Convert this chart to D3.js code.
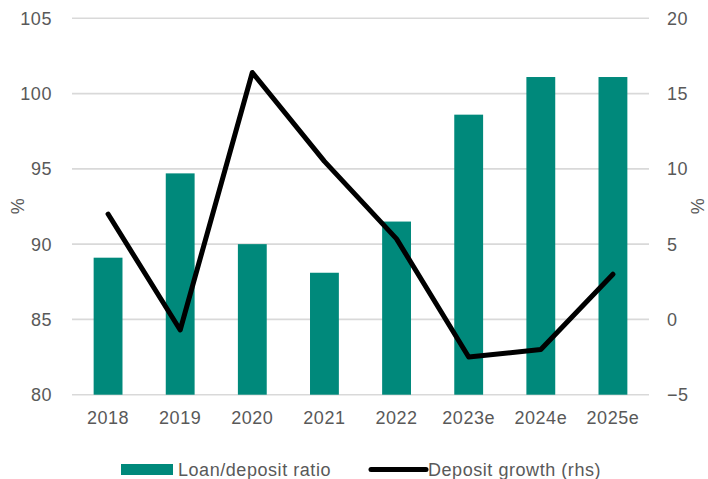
<!DOCTYPE html>
<html>
<head>
<meta charset="utf-8">
<script src="https://cdn.jsdelivr.net/npm/d3@7"></script>
<style>
  html, body { margin: 0; padding: 0; background: #fff; }
  svg text { font-family: "Liberation Sans", Arial, sans-serif; fill: #595959; letter-spacing: 0.55px; }
</style>
</head>
<body>
<svg id="chart" width="708" height="479"></svg>
<script>
// Years on the x axis
const years = ["2018", "2019", "2020", "2021", "2022", "2023e", "2024e", "2025e"];
// Loan/deposit ratio, % (left axis)
const loanDepositRatio = [89.1, 94.7, 90.0, 88.1, 91.5, 98.6, 101.1, 101.1];
// Deposit growth, % y/y (right axis)
const depositGrowth = [7.0, -0.7, 16.4, 10.5, 5.35, -2.5, -2.0, 3.0];
// Axis ticks
const leftTicks = [80, 85, 90, 95, 100, 105];
const rightTicks = [-5, 0, 5, 10, 15, 20];

const svg = d3.select("#chart");
const margin = { left: 72, right: 59, top: 18, bottom: 85 };
const W = 708, H = 479;
const x0 = margin.left, x1 = W - margin.right;
const yTop = margin.top + 0.3, yBot = H - margin.bottom + 0.7;

const x = d3.scaleBand().domain(years).range([x0, x1]).paddingInner(0.6).paddingOuter(0.3);
const yL = d3.scaleLinear().domain([80, 105]).range([yBot, yTop]);
const yR = d3.scaleLinear().domain([-5, 20]).range([yBot, yTop]);

// Horizontal gridlines
svg.append("g")
  .selectAll("line")
  .data(leftTicks)
  .join("line")
  .attr("x1", x0).attr("x2", x1)
  .attr("y1", d => yL(d)).attr("y2", d => yL(d))
  .attr("stroke", "#d9d9d9")
  .attr("stroke-width", 1.6);

// Left axis
const axisL = svg.append("g")
  .attr("transform", `translate(${x0},0)`)
  .call(d3.axisLeft(yL).tickValues(leftTicks).tickSize(0).tickPadding(20));
axisL.select(".domain").remove();
axisL.selectAll("text").style("font-size", "18px").attr("dy", "0.34em");

// Right axis
const axisR = svg.append("g")
  .attr("transform", `translate(${x1},0)`)
  .call(d3.axisRight(yR).tickValues(rightTicks).tickSize(0).tickPadding(18));
axisR.select(".domain").remove();
axisR.selectAll("text").style("font-size", "18px").attr("dy", "0.34em");

// Bars
svg.append("g")
  .selectAll("rect")
  .data(years)
  .join("rect")
  .attr("x", d => x(d))
  .attr("width", x.bandwidth())
  .attr("y", (d, i) => yL(loanDepositRatio[i]))
  .attr("height", (d, i) => yL(80) - yL(loanDepositRatio[i]))
  .attr("fill", "#00897b");

// X axis labels
const axisX = svg.append("g")
  .attr("transform", `translate(0,${yBot})`)
  .call(d3.axisBottom(x).tickSize(0).tickPadding(17));
axisX.select(".domain").remove();
axisX.selectAll("text").style("font-size", "18px");

// Deposit growth line
const line = d3.line()
  .x((d, i) => x(years[i]) + x.bandwidth() / 2)
  .y(d => yR(d));
svg.append("path")
  .datum(depositGrowth)
  .attr("d", line)
  .attr("fill", "none")
  .attr("stroke", "#000")
  .attr("stroke-width", 5)
  .attr("stroke-linecap", "round")
  .attr("stroke-linejoin", "round");

// Axis titles
svg.append("text")
  .attr("transform", "translate(18,206) rotate(-90)")
  .attr("text-anchor", "middle")
  .attr("dy", "0.35em")
  .style("font-size", "18px")
  .text("%");
svg.append("text")
  .attr("transform", "translate(698,206) rotate(-90)")
  .attr("text-anchor", "middle")
  .attr("dy", "0.35em")
  .style("font-size", "18px")
  .text("%");

// Legend
const legend = svg.append("g");
legend.append("rect")
  .attr("x", 121).attr("y", 464)
  .attr("width", 52).attr("height", 11)
  .attr("fill", "#00897b");
legend.append("text")
  .attr("x", 178).attr("y", 469.5)
  .attr("dy", "0.35em")
  .style("font-size", "18px")
  .text("Loan/deposit ratio");
legend.append("line")
  .attr("x1", 371).attr("x2", 426)
  .attr("y1", 469.5).attr("y2", 469.5)
  .attr("stroke", "#000")
  .attr("stroke-width", 5)
  .attr("stroke-linecap", "round");
legend.append("text")
  .attr("x", 428).attr("y", 469.5)
  .attr("dy", "0.35em")
  .style("font-size", "18px")
  .text("Deposit growth (rhs)");
</script>
</body>
</html>
